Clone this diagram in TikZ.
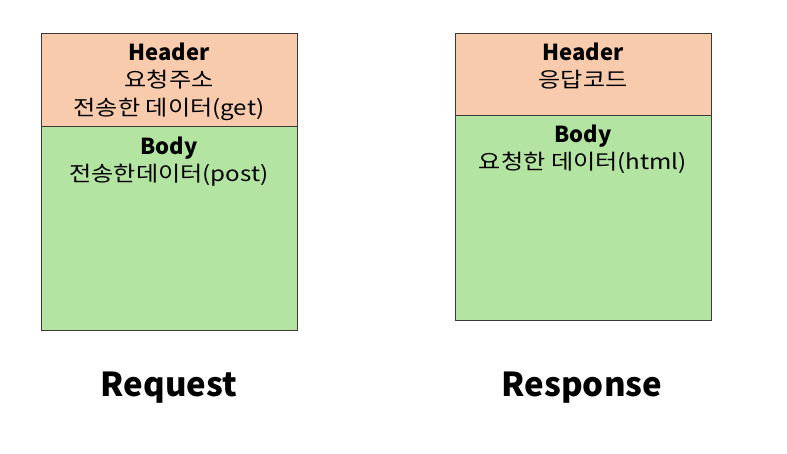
\documentclass[tikz,border=0pt]{standalone}
\usepackage{fontspec}
\setmainfont{Noto Sans CJK KR}
\newfontfamily\krwide[FakeStretch=1.15]{Noto Sans CJK KR}
\definecolor{hdrfill}{HTML}{F8CBAD}
\definecolor{bodyfill}{HTML}{B4E4A2}
\definecolor{edge}{HTML}{3A3A3A}
\begin{document}
\begin{tikzpicture}[x=1pt,y=1pt,
  hdr/.style={draw=edge, line width=1pt, fill=hdrfill, minimum width=256pt, anchor=north west, inner sep=0pt},
  bdy/.style={draw=edge, line width=1pt, fill=bodyfill, minimum width=256pt, anchor=north west, inner sep=0pt},
  lbl/.style={anchor=base, inner sep=0pt, font=\krwide\fontsize{21}{24}\selectfont},
  lblb/.style={anchor=base, inner sep=0pt, font=\fontsize{22}{24}\selectfont\bfseries},
  ttl/.style={anchor=base, inner sep=0pt, font=\fontsize{33}{36}\selectfont\bfseries}]
\useasboundingbox (0,0) rectangle (787,-453);
% Request
\node[bdy, minimum height=204pt] (reqB) at (41,-126) {};
\node[hdr, minimum height=93pt] (reqH) at (41,-33) {};
\node[lblb] (reqH1) at (169,-60) {Header};
\node[lbl] (reqH2) at (169,-87) {요청주소};
\node[lbl] (reqH3) at (169,-115) {전송한 데이터(get)};
\node[lblb] (reqB1) at (169,-154) {Body};
\node[lbl] (reqB2) at (169,-181) {전송한데이터(post)};
\node[ttl] (req) at (169,-396) {Request};
% Response
\node[bdy, minimum height=205pt] (resB) at (455,-115) {};
\node[hdr, minimum height=82pt] (resH) at (455,-33) {};
\node[lblb] (resH1) at (583,-60) {Header};
\node[lbl] (resH2) at (583,-87) {응답코드};
\node[lblb] (resB1) at (583,-142) {Body};
\node[lbl] (resB2) at (583,-169) {요청한 데이터(html)};
\node[ttl] (res) at (582,-396) {Response};
\end{tikzpicture}
\end{document}
